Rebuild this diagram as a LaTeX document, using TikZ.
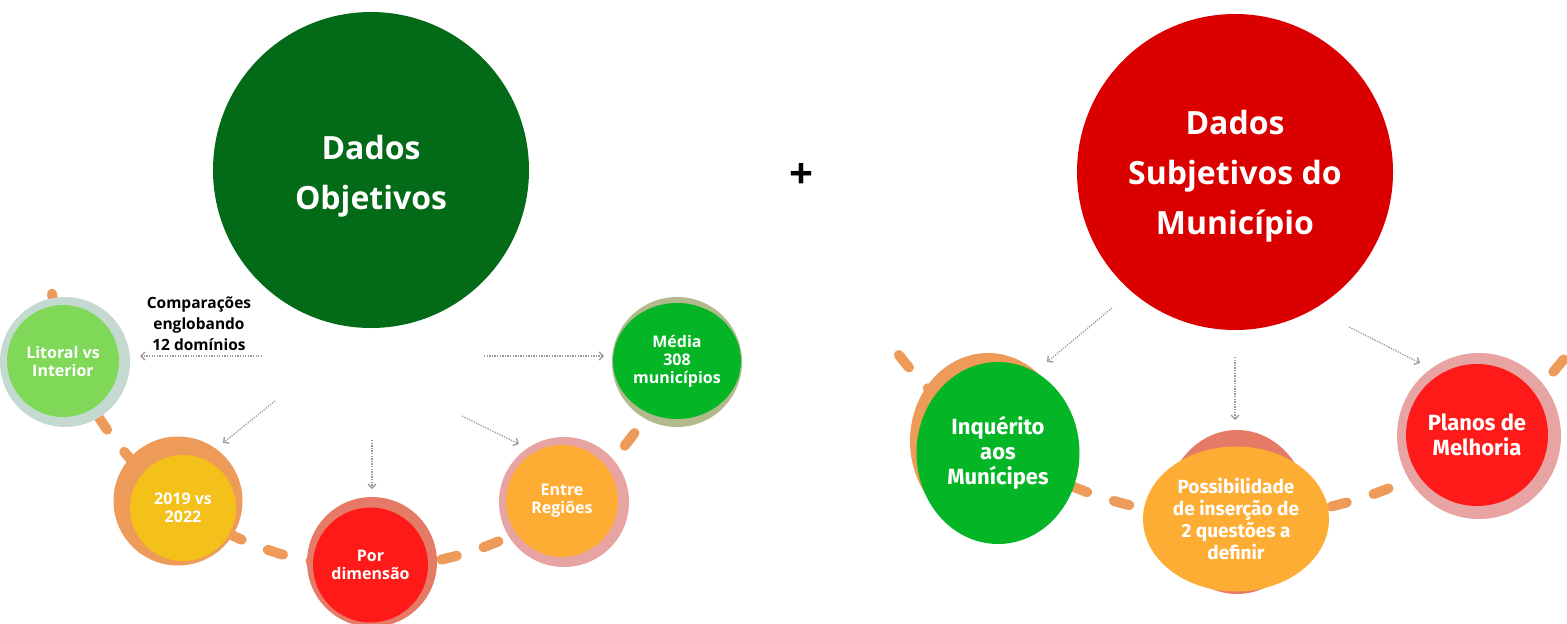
\documentclass[tikz,border=0pt]{standalone}
\usepackage{fontspec}
\setmainfont{Open Sans}
\newfontfamily\narrowfont{Fira Sans}
\usepackage{tikz}
\usetikzlibrary{shapes.geometric, arrows.meta, positioning, backgrounds, calc}

\definecolor{objgreen}{HTML}{036A17}
\definecolor{subred}{HTML}{DB0000}
\definecolor{ringgray}{HTML}{C4D9CF}
\definecolor{ringorange}{HTML}{EE9B5A}
\definecolor{ringsalmon}{HTML}{E57A66}
\definecolor{ringpink}{HTML}{E8A3A3}
\definecolor{ringolive}{HTML}{B2BA8C}
\definecolor{litgreen}{HTML}{7FD858}
\definecolor{brightgreen}{HTML}{04B526}
\definecolor{sunyellow}{HTML}{F4C01A}
\definecolor{hotred}{HTML}{FF1A1A}
\definecolor{softorange}{HTML}{FEAD34}
\definecolor{arrowgray}{HTML}{9A9A9A}

\begin{document}
\begin{tikzpicture}[
    x=1pt, y=-1pt,
    bigdot/.style={circle, inner sep=0pt, minimum size=316pt},
    bigtext/.style={align=center, text=white, font=\bfseries\fontsize{32}{50}\selectfont},
    ring/.style={circle, inner sep=0pt},
    oval/.style={ellipse, inner sep=0pt},
    bubble/.style={circle, inner sep=0pt, align=center, text=white, font=\bfseries\fontsize{16}{18}\selectfont},
    ovalbubble/.style={ellipse, inner sep=0pt, align=center, text=white, font=\narrowfont\bfseries\fontsize{22}{25}\selectfont},
    trail/.style={draw=ringorange, line width=10pt, line cap=round, dash pattern=on 16pt off 28pt},
    hint/.style={draw=arrowgray, line width=1.3pt, dash pattern=on 1.3pt off 1.3pt, -{Straight Barb[length=4pt, width=8pt]}}
]
    \useasboundingbox (0,0) rectangle (1567,624);

    % Dados Objetivos
    \node[bigdot, fill=objgreen, label={[bigtext, yshift=-6pt]center:Dados\\Objetivos}] (obj) at (371,170) {};

    % plus sign
    \node[font=\bfseries\fontsize{42}{42}\selectfont] (plus) at (801,176) {+};

    % Dados Subjetivos
    \node[bigdot, fill=subred, label={[bigtext, yshift=-4pt]center:Dados\\Subjetivos do\\Município}] (subj) at (1235,172) {};

    % Comparações label
    \node[align=center, font=\bfseries\fontsize{15.5}{21}\selectfont] (comp) at (199,324) {Comparações\\englobando\\12 domínios};

    % Litoral vs Interior
    \node[ring, fill=ringgray, minimum size=130pt] (litring) at (65,362) {};
    \node[bubble, fill=litgreen, minimum size=112pt] (lit) at (63,361) {Litoral vs\\Interior};

    % 2019 vs 2022
    \node[ring, fill=ringorange, minimum size=129pt] (yearring) at (178,501) {};
    \node[bubble, fill=sunyellow, minimum size=106pt] (year) at (183,508) {2019 vs\\2022};

    % Por dimensão
    \node[ring, fill=ringsalmon, minimum size=130pt] (dimring) at (372,562) {};
    \node[bubble, fill=hotred, minimum size=115pt] (dim) at (370.5,565) {Por\\dimensão};

    % Entre Regiões
    \node[ring, fill=ringpink, minimum size=130pt] (regring) at (564,502) {};
    \node[bubble, fill=softorange, minimum size=112pt] (reg) at (562,501) {Entre\\Regiões};

    % Média 308 municípios
    \node[ring, fill=ringolive, minimum size=130pt] (medring) at (677,362) {};
    \node[bubble, ellipse, fill=brightgreen, minimum width=128pt, minimum height=116pt] (med) at (677,361) {Média\\308\\municípios};

    % Inquérito aos Munícipes
    \node[oval, fill=ringorange, minimum width=156pt, minimum height=176pt] (inqring) at (988,441) {};
    \node[ovalbubble, fill=brightgreen, minimum width=163pt, minimum height=182pt] (inq) at (998,453) {Inquérito\\aos\\Munícipes};

    % Possibilidade de inserção
    \node[oval, fill=ringsalmon, minimum width=144pt, minimum height=164pt] (posring) at (1237,512) {};
    \node[ovalbubble, fill=softorange, minimum width=186pt, minimum height=145pt, font=\narrowfont\bfseries\fontsize{19}{22}\selectfont] (pos) at (1236,519) {Possibilidade\\de inserção de\\2 questões a\\definir};

    % Planos de Melhoria
    \node[oval, fill=ringpink, minimum width=164pt, minimum height=166pt] (plaring) at (1479,436) {};
    \node[ovalbubble, fill=hotred, minimum width=142pt, minimum height=142pt] (pla) at (1477,435) {Planos de\\Melhoria};

    % dashed trails behind the circles
    \coordinate (hubL) at (372,243);
    \coordinate (hubR) at (1233,94);
    \coordinate (trailL) at ($(hubL)+(171:324)$);
    \coordinate (trailR) at ($(hubR)+(142:424)$);
    \begin{scope}[on background layer]
        \draw[trail] (trailL) arc[start angle=171, end angle=9, radius=324];
        \draw[trail] (trailR) arc[start angle=142, end angle=38, radius=424];
    \end{scope}

    % Hints, left
    \coordinate (h1a) at (262,356); \coordinate (h1b) at (140,356);
    \coordinate (h2a) at (275,401); \coordinate (h2b) at (223,443);
    \coordinate (h3a) at (372,440); \coordinate (h3b) at (372,489);
    \coordinate (h4a) at (462,416); \coordinate (h4b) at (519,444);
    \coordinate (h5a) at (484,356); \coordinate (h5b) at (604,356);
    \draw[hint] (h1a) -- (h1b);
    \draw[hint] (h2a) -- (h2b);
    \draw[hint] (h3a) -- (h3b);
    \draw[hint] (h4a) -- (h4b);
    \draw[hint] (h5a) -- (h5b);

    % Hints, right
    \coordinate (h6a) at (1112,308); \coordinate (h6b) at (1047,362);
    \coordinate (h7a) at (1235,357); \coordinate (h7b) at (1235,420);
    \coordinate (h8a) at (1349,327); \coordinate (h8b) at (1420,363);
    \draw[hint] (h6a) -- (h6b);
    \draw[hint] (h7a) -- (h7b);
    \draw[hint] (h8a) -- (h8b);
\end{tikzpicture}
\end{document}
